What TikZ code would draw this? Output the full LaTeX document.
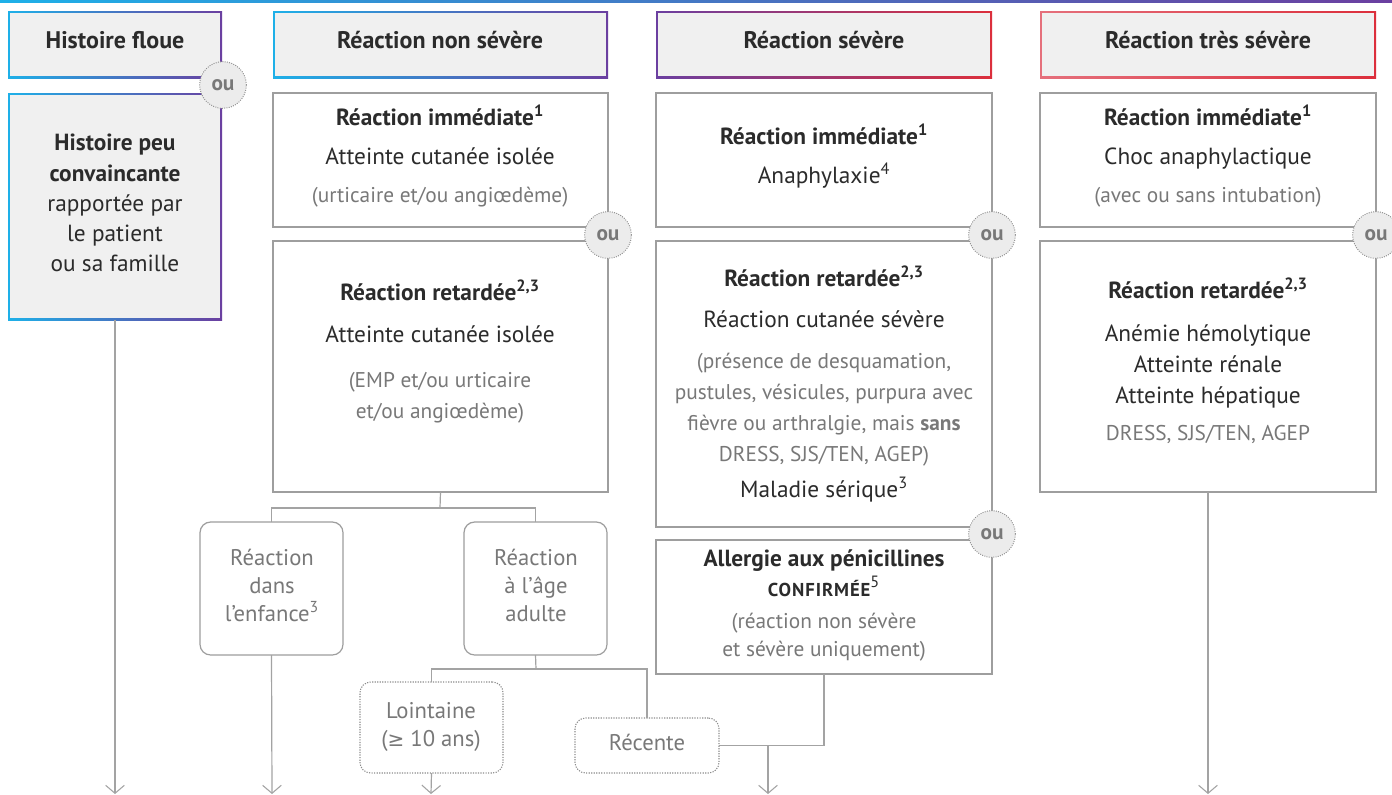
\documentclass[tikz,border=0pt]{standalone}
\usepackage{fontspec}
\setmainfont{PT Sans}
\newfontfamily\symf{DejaVu Sans}
\usetikzlibrary{arrows.meta}
\definecolor{txt}{HTML}{2B2B2B}
\definecolor{graytext}{HTML}{787878}
\definecolor{boxgray}{HTML}{9E9E9E}
\definecolor{linegray}{HTML}{A3A3A3}
\definecolor{dotgray}{HTML}{8C8C8C}
\definecolor{hdrfill}{HTML}{F0F0F0}
\definecolor{oufill}{HTML}{ECECEC}
\definecolor{cyanc}{HTML}{1EB0E8}
\definecolor{purplec}{HTML}{6B3FA0}
\definecolor{bluec}{HTML}{3A7FD0}
\definecolor{redc}{HTML}{DC2F3C}
\definecolor{pinkc}{HTML}{E5707C}
\newcommand\gbox[7]{%
  \shade[left color=#6,right color=#7] (#2,#3) rectangle (#4,#5);
  \fill[hdrfill] ({#2+1.6},{#3+1.6}) rectangle ({#4-1.6},{#5-1.6});
  \node[inner sep=0pt,outer sep=0pt,minimum width={(#4-#2)*0.75pt},minimum height={(#5-#3)*0.75pt}] (#1) at ({(#2+#4)/2},{(#3+#5)/2}) {};}
\newcommand\pbox[6]{\node[#6,minimum width={(#4-#2)*0.75pt},minimum height={(#5-#3)*0.75pt}] (#1) at ({(#2+#4)/2},{(#3+#5)/2}) {};}
\newcommand\tline[5]{\node[#4,anchor=mid,inner sep=0pt] (#1) at (#2,#3) {#5};}
\begin{document}
\begin{tikzpicture}[x=0.75pt,y=-0.75pt,
  box/.style={draw=boxgray,line width=0.9pt,fill=white,inner sep=0pt,outer sep=0pt},
  rbox/.style={box,rounded corners=8pt},
  dbox/.style={rbox,draw=dotgray,densely dotted,line width=0.8pt},
  ouc/.style={circle,fill=oufill,draw=dotgray,densely dotted,line width=0.7pt,minimum size=35pt,inner sep=0pt,text=graytext,font=\fontsize{16}{16}\selectfont\bfseries},
  conn/.style={draw=linegray,line width=0.9pt},
  arr/.style={conn,-{Straight Barb[length=6pt,width=14pt,line width=0.8pt]}},
  hd/.style={text=txt,font=\fontsize{18}{20}\selectfont\bfseries},
  bt/.style={text=txt,font=\fontsize{17.5}{20}\selectfont\bfseries},
  nt/.style={text=txt,font=\fontsize{17.5}{20}\selectfont},
  gt/.style={text=graytext,font=\fontsize{16}{19}\selectfont},
  ct/.style={text=graytext,font=\fontsize{17}{20}\selectfont}]
\useasboundingbox (0,0) rectangle (1392,794);
\fill[white] (0,0) rectangle (1392,794);
% top rule
\shade[left color=cyanc,middle color=bluec,right color=purplec] (0,0) rectangle (1392,2.5);

% ---- column 1
\gbox{h1}{8}{11}{222}{78}{cyanc}{purplec}
\tline{h1t}{115}{45}{hd}{Histoire floue}
\gbox{hb}{8}{93}{222}{320}{cyanc}{purplec}
\tline{hb1}{115}{147}{bt}{Histoire peu}
\tline{hb2}{115}{178}{bt}{convaincante}
\tline{hb3}{115}{208}{nt}{rapportée par}
\tline{hb4}{115}{238}{nt}{le patient}
\tline{hb5}{115}{268}{nt}{ou sa famille}
\coordinate (a1) at (115,794);
\draw[arr] (hb.south) -- (a1);

% ---- column 2
\gbox{h2}{273}{11}{608}{78}{cyanc}{purplec}
\tline{h2t}{440}{45}{hd}{Réaction non sévère}

\coordinate (j1) at (440,508);
\coordinate (j2) at (536,669);
\coordinate (a2) at (272,794);
\coordinate (a3) at (431,794);
\coordinate (j3) at (768,746);
\coordinate (a4) at (768,794);
\coordinate (a5) at (1208,794);

\pbox{c2a}{273}{93}{608}{227}{box}
\tline{c2a1}{440}{122}{bt}{Réaction immédiate\textsuperscript{1}}
\tline{c2a2}{440}{161}{nt}{Atteinte cutanée isolée}
\tline{c2a3}{440}{199}{gt}{(urticaire et/ou angiœdème)}
\pbox{c2b}{273}{241}{608}{492}{box}
\tline{c2b1}{440}{297}{bt}{Réaction retardée\textsuperscript{2,3}}
\tline{c2b2}{440}{339}{nt}{Atteinte cutanée isolée}
\tline{c2b3}{440}{384}{gt}{(EMP et/ou urticaire}
\tline{c2b4}{440}{415}{gt}{et/ou angiœdème)}

\pbox{e1}{200}{522}{343}{655}{rbox}
\tline{e11}{272}{562}{ct}{Réaction}
\tline{e12}{272}{590}{ct}{dans}
\tline{e13}{272}{618}{ct}{l’enfance\textsuperscript{3}}
\pbox{e2}{464}{522}{607}{655}{rbox}
\tline{e21}{536}{562}{ct}{Réaction}
\tline{e22}{536}{590}{ct}{à l’âge}
\tline{e23}{536}{618}{ct}{adulte}

\pbox{lo}{360}{682}{503}{773}{dbox}
\tline{lo1}{431}{715}{ct}{Lointaine}
\tline{lo2}{431}{743}{ct}{({\symf\fontsize{15}{17}\selectfont ≥} 10 ans)}
\pbox{re}{575}{718}{719}{773}{dbox}
\tline{re1}{647}{747}{ct}{Récente}

% ---- column 3
\gbox{h3}{656}{11}{992}{78}{purplec}{redc}
\tline{h3t}{824}{45}{hd}{Réaction sévère}
\pbox{c3a}{656}{93}{992}{227}{box}
\tline{c3a1}{824}{141}{bt}{Réaction immédiate\textsuperscript{1}}
\tline{c3a2}{824}{180}{nt}{Anaphylaxie\textsuperscript{4}}
\pbox{c3b}{656}{241}{992}{527}{box}
\tline{c3b1}{824}{283}{bt}{Réaction retardée\textsuperscript{2,3}}
\tline{c3b2}{824}{324}{nt}{Réaction cutanée sévère}
\tline{c3b3}{824}{365}{gt}{(présence de desquamation,}
\tline{c3b4}{824}{396}{gt}{pustules, vésicules, purpura avec}
\tline{c3b5}{824}{427}{gt}{fièvre ou arthralgie, mais \textbf{sans}}
\tline{c3b6}{824}{458}{gt}{DRESS, SJS/TEN, AGEP)}
\tline{c3b7}{824}{494}{nt}{Maladie sérique\textsuperscript{3}}
\pbox{c3c}{656}{540}{992}{674}{box}
\tline{c3c1}{824}{563}{bt}{Allergie aux pénicillines}
\tline{c3c2}{824}{593}{bt}{{\fontsize{14}{16}\selectfont\addfontfeature{LetterSpace=5}CONFIRMÉE}\textsuperscript{\mdseries 5}}
\tline{c3c3}{824}{625}{gt}{(réaction non sévère}
\tline{c3c4}{824}{653}{gt}{et sévère uniquement)}

% ---- column 4
\gbox{h4}{1040}{11}{1376}{78}{pinkc}{redc}
\tline{h4t}{1208}{45}{hd}{Réaction très sévère}
\pbox{c4a}{1040}{93}{1376}{227}{box}
\tline{c4a1}{1208}{122}{bt}{Réaction immédiate\textsuperscript{1}}
\tline{c4a2}{1208}{161}{nt}{Choc anaphylactique}
\tline{c4a3}{1208}{199}{gt}{(avec ou sans intubation)}
\pbox{c4b}{1040}{241}{1376}{492}{box}
\tline{c4b1}{1208}{295}{bt}{Réaction retardée\textsuperscript{2,3}}
\tline{c4b2}{1208}{338}{nt}{Anémie hémolytique}
\tline{c4b3}{1208}{369}{nt}{Atteinte rénale}
\tline{c4b4}{1208}{400}{nt}{Atteinte hépatique}
\tline{c4b5}{1208}{437}{gt}{DRESS, SJS/TEN, AGEP}

% ---- connectors
\draw[conn] (c2b.south) -- (j1);
\draw[conn] (e1.north) |- (j1) -| (e2.north);
\draw[conn] (e2.south) -- (j2);
\draw[conn] (lo.north) |- (j2) -| (re.north);
\draw[arr] (e1.south) -- (a2);
\draw[arr] (lo.south) -- (a3);
\draw[conn] (re.east) -| (c3c.south);
\draw[arr] (j3) -- (a4);
\draw[arr] (c4b.south) -- (a5);

% ---- "ou" circles
\node[ouc] (ou1) at (223,85) {ou};
\node[ouc] (ou2) at (608,235) {ou};
\node[ouc] (ou3) at (992,235) {ou};
\node[ouc] (ou4) at (992,534) {ou};
\node[ouc] (ou5) at (1376,235) {ou};
\end{tikzpicture}
\end{document}
